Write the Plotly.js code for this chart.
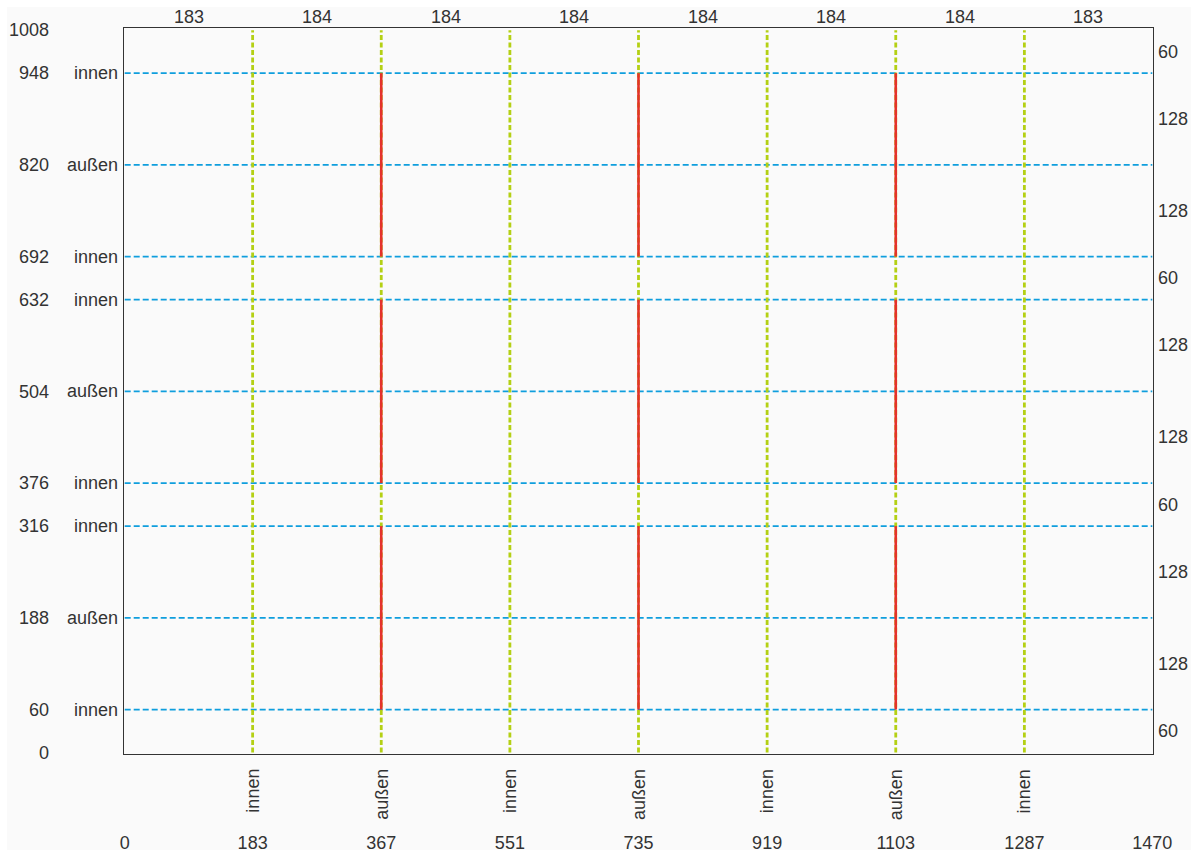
<!DOCTYPE html>
<html>
<head>
<meta charset="utf-8">
<script src="https://cdn.plot.ly/plotly-3.0.1.min.js"></script>
<style>
html,body{margin:0;padding:0;background:#ffffff;}
#chart{position:absolute;left:0;top:0;width:1201px;height:854px;}
</style>
</head>
<body>
<div id="chart"></div>
<script>
// Data
const xMax = 1470;
const yMax = 1008;
const xLines = [183, 367, 551, 735, 919, 1103, 1287];
const xLineLabels = ["innen", "außen", "innen", "außen", "innen", "außen", "innen"];
const xTicks = [0, 183, 367, 551, 735, 919, 1103, 1287, 1470];
const yLines = [60, 188, 316, 376, 504, 632, 692, 820, 948];
const yLineLabels = ["innen", "außen", "innen", "innen", "außen", "innen", "innen", "außen", "innen"];
const yTicks = [0, 60, 188, 316, 376, 504, 632, 692, 820, 948, 1008];
const redX = [367, 735, 1103];
const redSegments = [[60, 316], [376, 632], [692, 948]];

const font = {family: "Liberation Sans, Arial, sans-serif", size: 18, color: "#333333"};

function joinSegments(pairsX, pairsY) {
  const xs = [], ys = [];
  for (let i = 0; i < pairsX.length; i++) {
    xs.push(pairsX[i][0], pairsX[i][1], null);
    ys.push(pairsY[i][0], pairsY[i][1], null);
  }
  return {xs, ys};
}

const hx = [], hy = [];
yLines.forEach(v => { hx.push([0, xMax]); hy.push([v, v]); });
const hSeg = joinSegments(hx, hy);

const vx = [], vy = [];
xLines.forEach(v => { vx.push([v, v]); vy.push([0, yMax]); });
const vSeg = joinSegments(vx, vy);

const rx = [], ry = [];
redX.forEach(v => redSegments.forEach(s => { rx.push([v, v]); ry.push(s); }));
const rSeg = joinSegments(rx, ry);

const traces = [
  {x: hSeg.xs, y: hSeg.ys, mode: "lines", line: {color: "#0f9edd", width: 1.7, dash: "6px,3px"}, hoverinfo: "skip", showlegend: false},
  {x: vSeg.xs, y: vSeg.ys, mode: "lines", line: {color: "#b4d014", width: 2.8, dash: "5px,2.5px"}, hoverinfo: "skip", showlegend: false},
  {x: rSeg.xs, y: rSeg.ys, mode: "lines", line: {color: "#e4312b", width: 2.6}, hoverinfo: "skip", showlegend: false}
];

const annotations = [];
yLines.forEach((v, i) => annotations.push({
  x: 0, xref: "paper", y: v, yref: "y", text: yLineLabels[i], showarrow: false,
  xanchor: "right", yanchor: "middle", xshift: -4, font: font
}));
xLines.forEach((v, i) => annotations.push({
  x: v, xref: "x", y: 0, yref: "paper", text: xLineLabels[i], showarrow: false,
  textangle: -90, xanchor: "center", yanchor: "top", yshift: -13, font: font
}));
for (let i = 0; i < xTicks.length - 1; i++) {
  annotations.push({
    x: (xTicks[i] + xTicks[i + 1]) / 2, xref: "x", y: 1, yref: "paper",
    text: String(xTicks[i + 1] - xTicks[i]), showarrow: false,
    xanchor: "center", yanchor: "bottom", yshift: -1, font: font
  });
}
for (let i = 0; i < yTicks.length - 1; i++) {
  annotations.push({
    x: 1, xref: "paper", y: (yTicks[i] + yTicks[i + 1]) / 2, yref: "y",
    text: String(yTicks[i + 1] - yTicks[i]), showarrow: false,
    xanchor: "left", yanchor: "middle", xshift: 3, font: font
  });
}

const layout = {
  width: 1201, height: 854,
  margin: {l: 124, r: 48, t: 28, b: 100},
  paper_bgcolor: "#ffffff", plot_bgcolor: "#fafafa",
  font: font,
  showlegend: false,
  shapes: [{
    type: "rect", xref: "paper", yref: "paper", layer: "below",
    x0: -0.1137, x1: 1.037, y0: -0.1322, y1: 1.0289,
    fillcolor: "#fafafa", line: {width: 0}
  }],
  xaxis: {
    range: [-1, 1471], tickmode: "array", tickvals: xTicks, ticktext: xTicks.map(String),
    showgrid: false, zeroline: false, showline: true, mirror: true,
    linecolor: "#333333", linewidth: 1.3, ticks: "", ticklabelstandoff: 72, tickfont: font
  },
  yaxis: {
    range: [-2, 1011], tickmode: "array", tickvals: yTicks, ticktext: yTicks.map(String),
    showgrid: false, zeroline: false, showline: true, mirror: true,
    linecolor: "#333333", linewidth: 1.3, ticks: "", ticklabelstandoff: 70, tickfont: font
  },
  annotations: annotations
};

Plotly.newPlot("chart", traces, layout, {displayModeBar: false, staticPlot: true});
</script>
</body>
</html>
